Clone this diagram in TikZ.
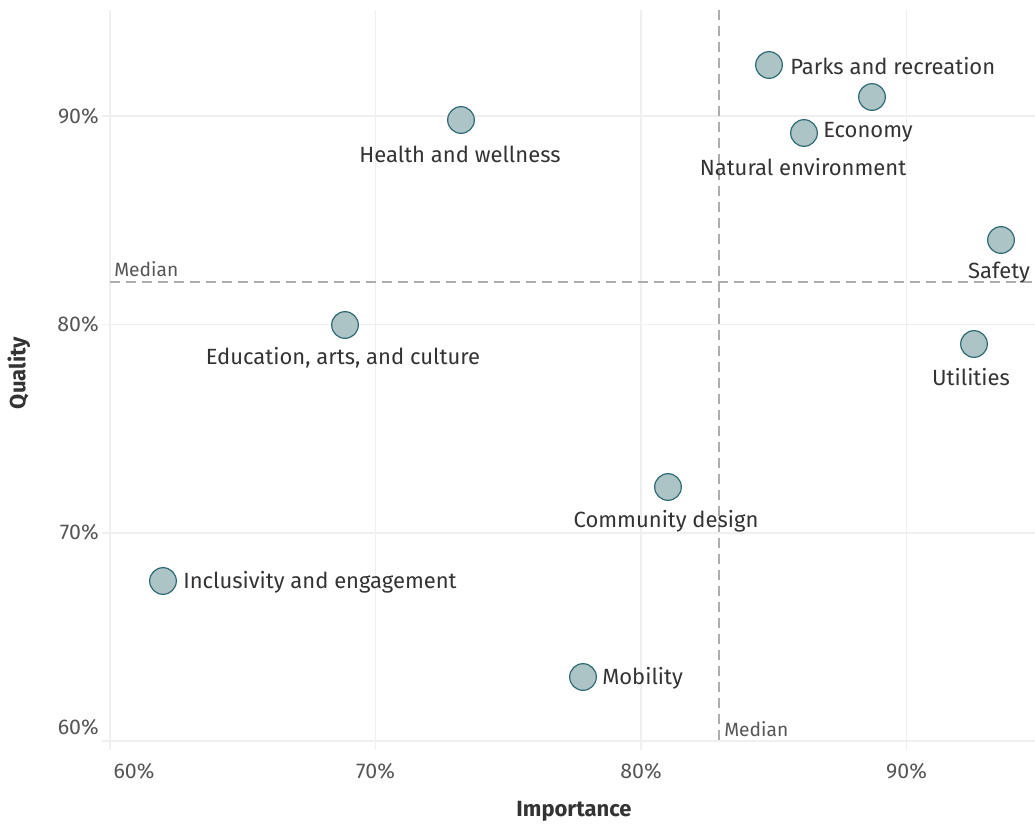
\documentclass[tikz,border=0pt]{standalone}
\usepackage{fontspec}
\setmainfont{Fira Sans}
\definecolor{gridc}{HTML}{EFEFEF}
\definecolor{medc}{HTML}{ADADAD}
\definecolor{dotfill}{HTML}{ADC4C7}
\definecolor{dotline}{HTML}{2E6B74}
\definecolor{ticktxt}{HTML}{555555}
\definecolor{lbltxt}{HTML}{333333}
\begin{document}
\begin{tikzpicture}[x=0.75pt,y=-0.75pt,
  gridline/.style={draw=gridc,line width=1.2pt},
  medline/.style={draw=medc,line width=1.8pt,dash pattern=on 7.5pt off 4.5pt},
  dot/.style={circle,draw=dotline,fill=dotfill,line width=0.9pt,minimum size=20pt,inner sep=0pt},
  lbl/.style={text=lbltxt,font=\fontsize{16.5}{18}\selectfont,inner sep=0pt},
  tick/.style={text=ticktxt,font=\fontsize{16}{18}\selectfont,inner sep=0pt},
  medlbl/.style={text=ticktxt,font=\fontsize{14.4}{16}\selectfont,inner sep=0pt},
  axtitle/.style={text=lbltxt,font=\bfseries\fontsize{16.5}{18}\selectfont,inner sep=0pt}]
\useasboundingbox (0,0) rectangle (1035,825);
% grid
\foreach \x in {110,375.5,641,906.5} \draw[gridline] (\x,10) -- (\x,750);
\foreach \y in {116,324.3,532.7,741} \draw[gridline] (102,\y) -- (1035,\y);
% medians
\coordinate (mhL) at (110,281.7);
\coordinate (mhR) at (1035,281.7);
\coordinate (mvT) at (719,10);
\coordinate (mvB) at (719,741);
\draw[medline] (mhL) -- (mhR);
\draw[medline] (mvT) -- (mvB);
\node[medlbl,anchor=west] (mlh) at (114,269) {Median};
\node[medlbl,anchor=west] (mlv) at (724,729) {Median};
% y ticks
\node[tick,anchor=east] (y90) at (99,116) {90\%};
\node[tick,anchor=east] (y80) at (99,324.3) {80\%};
\node[tick,anchor=east] (y70) at (99,532.7) {70\%};
\node[tick,anchor=east] (y60) at (99,727) {60\%};
% x ticks
\node[tick] (x60) at (134,771) {60\%};
\node[tick] (x70) at (375.5,771) {70\%};
\node[tick] (x80) at (641,771) {80\%};
\node[tick] (x90) at (906.5,771) {90\%};
% axis titles
\node[axtitle,rotate=90] (qt) at (19,373) {Quality};
\node[axtitle] (it) at (574,811) {Importance};
% points
\node[dot] (p1) at (769,65) {};
\node[dot] (p2) at (872,97) {};
\node[dot] (p3) at (804,133) {};
\node[dot] (p4) at (461,120) {};
\node[dot] (p5) at (1001,240) {};
\node[dot] (p6) at (345,325) {};
\node[dot] (p7) at (974,344) {};
\node[dot] (p8) at (668,487) {};
\node[dot] (p9) at (163,581) {};
\node[dot] (p10) at (583,677) {};
% labels
\node[lbl,anchor=west] (l1) at (790,66) {Parks and recreation};
\node[lbl,anchor=west] (l3) at (823,132) {Economy};
\node[lbl] (l2) at (803,167) {Natural environment};
\node[lbl] (l4) at (460,154) {Health and wellness};
\node[lbl] (l5) at (999,273) {Safety};
\node[lbl] (l6) at (343,358) {Education, arts, and culture};
\node[lbl] (l7) at (971,377) {Utilities};
\node[lbl] (l8) at (666,521) {Community design};
\node[lbl,anchor=west] (l9) at (183,582) {Inclusivity and engagement};
\node[lbl,anchor=west] (l10) at (602,678) {Mobility};
\end{tikzpicture}
\end{document}
